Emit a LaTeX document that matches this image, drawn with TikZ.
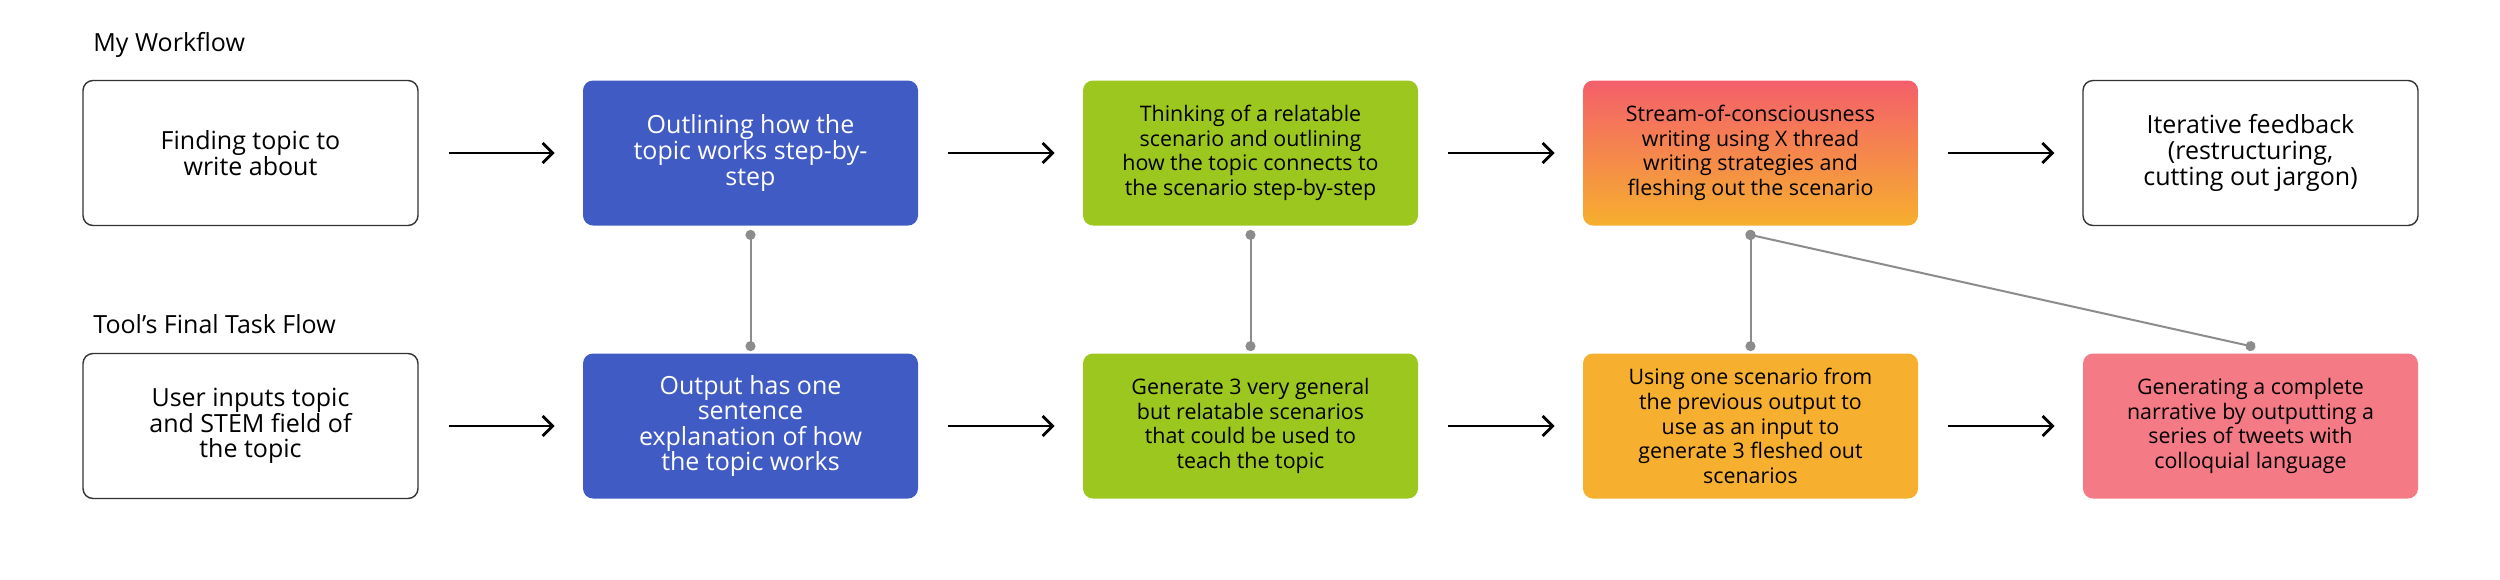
\documentclass[tikz,border=0pt]{standalone}
\usepackage{fontspec}
\setmainfont{Open Sans}
\usetikzlibrary{arrows.meta}

\definecolor{boxline}{HTML}{333333}
\definecolor{stepblue}{HTML}{415BC4}
\definecolor{stepgreen}{HTML}{9BC71F}
\definecolor{steporange}{HTML}{F6AF2E}
\definecolor{steppink}{HTML}{F47A86}
\definecolor{gradtop}{HTML}{F45F6B}
\definecolor{linkgray}{HTML}{8C8C8C}

\tikzset{
    box/.style={rounded corners=5pt, minimum width=167.5pt, minimum height=72.5pt,
        inner sep=0pt, align=center, font=\fontsize{12.5}{12.8}\selectfont},
    smalltext/.style={font=\fontsize{10.7}{12.3}\selectfont},
    plainbox/.style={box, draw=boxline, line width=0.7pt, fill=white},
    bluebox/.style={box, fill=stepblue, text=white},
    greenbox/.style={box, smalltext, fill=stepgreen},
    orangebox/.style={box, smalltext, fill=steporange},
    pinkbox/.style={box, smalltext, fill=steppink},
    gradbox/.style={box, smalltext, top color=gradtop, bottom color=steporange},
    rowtitle/.style={anchor=west, inner sep=0pt, font=\fontsize{12.5}{13}\selectfont},
    flow/.style={-{Straight Barb[length=5pt,width=10pt]}, line width=1.4pt,
        shorten <=15pt, shorten >=14pt},
    link/.style={{Circle[length=5pt]}-{Circle[length=5pt]}, draw=linkgray,
        line width=1pt, shorten <=-2.5pt, shorten >=-2.5pt}
}

\begin{document}
\begin{tikzpicture}[x=0.5pt,y=-0.5pt]
\useasboundingbox (0,0) rectangle (2500,579);

% Row titles
\node[rowtitle] (mytitle) at (93,45) {My Workflow};
\node[rowtitle] (tooltitle) at (93,324) {Tool’s Final Task Flow};

% My workflow
\node[plainbox] (find) at (250.5,153) {Finding topic to\\write about};
\node[bluebox] (outline) at (750.5,153) {Outlining how the\\topic works step-by-\\step};
\node[greenbox] (think) at (1250.5,153) {Thinking of a relatable\\scenario and outlining\\how the topic connects to\\the scenario step-by-step};
\node[gradbox] (stream) at (1750.5,153) {Stream-of-consciousness\\writing using X thread\\writing strategies and\\fleshing out the scenario};
\node[plainbox] (iterate) at (2250.5,153) {Iterative feedback\\(restructuring,\\cutting out jargon)};

% Tool's task flow
\node[plainbox] (input) at (250.5,426) {User inputs topic\\and STEM field of\\the topic};
\node[bluebox] (explain) at (750.5,426) {Output has one\\sentence\\explanation of how\\the topic works};
\node[greenbox] (general) at (1250.5,426) {Generate 3 very general\\but relatable scenarios\\that could be used to\\teach the topic};
\node[orangebox] (flesh) at (1750.5,426) {Using one scenario from\\the previous output to\\use as an input to\\generate 3 fleshed out\\scenarios};
\node[pinkbox] (narrative) at (2250.5,426) {Generating a complete\\narrative by outputting a\\series of tweets with\\colloquial language};

% Arrows
\draw[flow] (find) -- (outline);
\draw[flow] (outline) -- (think);
\draw[flow] (think) -- (stream);
\draw[flow] (stream) -- (iterate);
\draw[flow] (input) -- (explain);
\draw[flow] (explain) -- (general);
\draw[flow] (general) -- (flesh);
\draw[flow] (flesh) -- (narrative);

% Links between the rows
\draw[link] ([yshift=-4.5pt]outline.south) -- ([yshift=3.5pt]explain.north);
\draw[link] ([yshift=-4.5pt]think.south) -- ([yshift=3.5pt]general.north);
\draw[link] ([yshift=-4.5pt]stream.south) -- ([yshift=3.5pt]flesh.north);
\draw[link] ([yshift=-4.5pt]stream.south) -- ([yshift=3.5pt]narrative.north);

\end{tikzpicture}
\end{document}
